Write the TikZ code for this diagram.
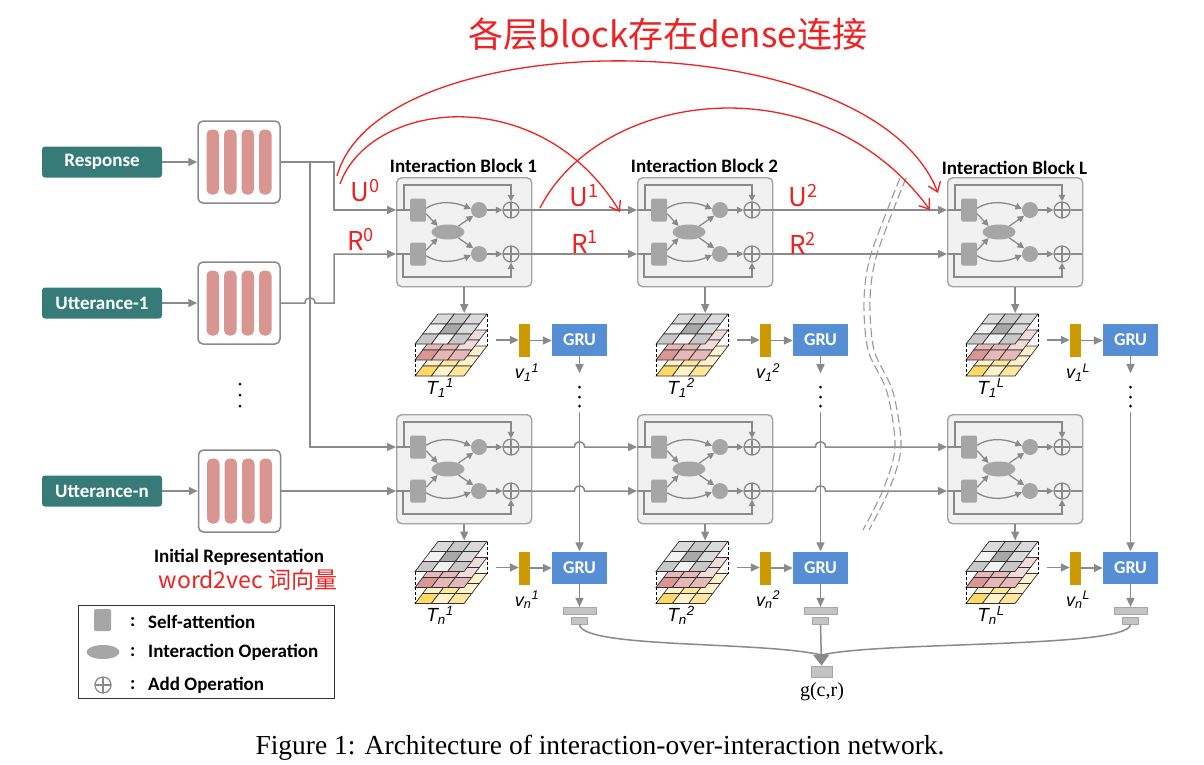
\documentclass[tikz,border=0pt]{standalone}
\usepackage{fontspec}
\setmainfont{Carlito}
\newfontfamily\serifcap{Liberation Serif}
\newfontfamily\sansit{Liberation Sans}
\newfontfamily\cjk{Noto Sans CJK SC}
\usetikzlibrary{arrows.meta,calc,shapes.geometric}

\definecolor{teal0}{HTML}{367B78}
\definecolor{emb}{HTML}{D99592}
\definecolor{lnc}{HTML}{8A8A8A}
\definecolor{blkfill}{HTML}{F1F1F1}
\definecolor{blkdraw}{HTML}{A3A3A3}
\definecolor{opfill}{HTML}{A6A6A6}
\definecolor{gru}{HTML}{558ED5}
\definecolor{vbar}{HTML}{CC9900}
\definecolor{hand}{HTML}{EE2222}
\definecolor{poolc}{HTML}{C4C4C4}
% tensor cell colours
\definecolor{g2}{HTML}{C8C8C8}
\definecolor{g3}{HTML}{A8A8A8}
\definecolor{g4}{HTML}{F2F2F2}
\definecolor{g5}{HTML}{DADADA}
\definecolor{p1}{HTML}{D99694}
\definecolor{p2}{HTML}{E6B9B8}
\definecolor{p3}{HTML}{F2DCDB}
\definecolor{y1}{HTML}{FFD966}
\definecolor{y2}{HTML}{FFE699}
\definecolor{y3}{HTML}{FFF2CC}

\tikzset{
  ln/.style={draw=lnc, line width=1.5pt},
  arr/.style={ln, -{Triangle[length=9pt,width=8pt]}},
  arrs/.style={draw=lnc, line width=1.3pt, -{Triangle[length=6.5pt,width=6.5pt]}},
  blk/.style={draw=blkdraw, fill=blkfill, rounded corners=5pt, line width=1.4pt,
    minimum width=135pt, minimum height=109pt, inner sep=0pt},
  sa/.style={fill=opfill, rounded corners=1.5pt, minimum width=16pt, minimum height=23pt, inner sep=0pt},
  io/.style={ellipse, fill=opfill, minimum width=33pt, minimum height=15pt, inner sep=0pt},
  dotop/.style={circle, fill=opfill, minimum size=16pt, inner sep=0pt},
  addop/.style={circle, draw=lnc, line width=1.3pt, minimum size=16pt, inner sep=0pt,
    path picture={\draw[lnc, line width=1.3pt]
      (path picture bounding box.north) -- (path picture bounding box.south)
      (path picture bounding box.west) -- (path picture bounding box.east);}},
  srcbox/.style={fill=teal0, rounded corners=3pt, minimum width=120pt, minimum height=31pt,
    inner sep=0pt, text=white, font=\bfseries\fontsize{19}{19}\selectfont},
  embbox/.style={draw=lnc, fill=white, rounded corners=5pt, line width=1.5pt,
    minimum size=82pt, inner sep=0pt,
    path picture={\foreach \k in {-1.5,-0.5,0.5,1.5}
      \fill[emb] ($(path picture bounding box.center)+(\k*17.5-6.25,-32.5)$) rectangle ++(12.5,65);}},
  grubox/.style={fill=gru, minimum width=55pt, minimum height=32pt, inner sep=0pt,
    text=white, font=\bfseries\fontsize{18}{18}\selectfont},
  vec/.style={fill=vbar, minimum width=11pt, minimum height=33pt, inner sep=0pt},
  poolA/.style={fill=poolc, draw=gray!70, line width=0.6pt, minimum width=33pt, minimum height=7pt, inner sep=0pt},
  poolB/.style={fill=poolc, draw=gray!70, line width=0.6pt, minimum width=16pt, minimum height=7pt, inner sep=0pt},
  vdot/.style={circle, fill=black, minimum size=3pt, inner sep=0pt},
  title/.style={font=\bfseries\fontsize{19}{19}\selectfont, inner sep=0pt},
  Tlab/.style={font=\sansit\itshape\fontsize{19}{19}\selectfont, inner sep=0pt},
  vlab/.style={font=\sansit\itshape\fontsize{18}{18}\selectfont, inner sep=0pt},
  legtxt/.style={font=\bfseries\fontsize{19}{19}\selectfont, anchor=west, inner sep=0pt},
  redtxt/.style={text=hand, font=\cjk\fontsize{26}{26}\selectfont, inner sep=0pt},
  redarr/.style={draw=hand, line width=1.3pt, -{Straight Barb[length=9pt,width=13pt]}},
  brk/.style={draw=gray!80, line width=1.1pt, dash pattern=on 9pt off 4pt},
}

% one 3x3 layer of a matching tensor; #1 vertical offset, #2 nine colours (back row first)
\newcommand\tlayer[2]{%
  \begin{scope}[shift={(0,#1)}, x={(16.333pt,0pt)}, y={(-7.667pt,-10pt)}]
    \foreach \c [count=\k from 0] in {#2}{%
      \pgfmathtruncatemacro\cu{mod(\k,3)}%
      \pgfmathtruncatemacro\cv{int(\k/3)}%
      \filldraw[fill=\c, draw=black!80, line width=0.7pt]
        (\cu,\cv) -- ++(1,0) -- ++(0,1) -- ++(-1,0) -- cycle;
    }
  \end{scope}}

% stack of three layers; #2,#3 = back-left corner of the top layer
\newcommand\tstack[3]{%
  \begin{scope}[shift={(#2,#3)}]
    \tlayer{32}{y3,y2,y3,y3,y2,y3,y1,y3,y2}
    \tlayer{16}{p3,p3,p3,p2,p2,p3,p1,p2,p2}
    \tlayer{0}{g5,g2,g5,g4,g3,g5,g2,g4,g2}
    \draw[black, line width=0.8pt, dash pattern=on 3pt off 2pt] (-23,30) -- (-23,62);
    \draw[black, line width=0.8pt, dash pattern=on 3pt off 2pt] (49,0) -- (49,32);
    \coordinate (#1-top) at (24.5,0);
    \coordinate (#1-out) at (58,26);
  \end{scope}}

% tensor, feature vector and GRU of one block
\newcommand\stage[5]{%
  \tstack{t#1}{#2}{#3}
  \node[Tlab] (tl#1) at ($(t#1-top)+(-22.5,74)$) {#4};
  \node[vec] (v#1) at ($(t#1-top)+(62,26.5)$) {};
  \node[grubox] (g#1) at ($(t#1-top)+(117,26)$) {GRU};
  \node[vlab] (vl#1) at ($(v#1)+(2.5,32)$) {#5};
  \draw[arr] (t#1-out) -- (t#1-out -| v#1.west);
  \draw[arr] (v#1.east) -- (v#1.east -| g#1.west);
}

% interaction block; #2,#3 = top-left corner
\newcommand\ioiblock[3]{%
  \begin{scope}[shift={(#2,#3)}]
    \node[blk, anchor=north west] (#1) at (0,0) {};
    \node[sa] (#1-sau) at (22,33) {};
    \node[sa] (#1-sar) at (22,77) {};
    \node[io] (#1-io) at (52,55) {};
    \node[dotop] (#1-du) at (83,33) {};
    \node[dotop] (#1-dr) at (83,77) {};
    \node[addop] (#1-au) at (115,33) {};
    \node[addop] (#1-ar) at (115,77) {};
    \coordinate (#1-uin) at (0,33);
    \coordinate (#1-rin) at (0,77);
    \coordinate (#1-uout) at (135,33);
    \coordinate (#1-rout) at (135,77);
    \coordinate (#1-ku) at (8,8);
    \coordinate (#1-kr) at (7,100);
  \end{scope}
  \draw[ln] (#1-uin) -- (#1-sau);
  \draw[ln] (#1-rin) -- (#1-sar);
  \draw[arrs] (#1-ku |- #1-uin) -- (#1-ku) -| (#1-au.north);
  \draw[arrs] (#1-kr |- #1-rin) -- (#1-kr) -| (#1-ar.south);
  \draw[arrs] (#1-sau.12) .. controls +(14,-9) and +(-14,-6) .. (#1-du.172);
  \draw[arrs] (#1-sau.-25) -- (#1-io.150);
  \draw[arrs] (#1-sar.25) -- (#1-io.210);
  \draw[arrs] (#1-sar.-12) .. controls +(14,9) and +(-14,6) .. (#1-dr.188);
  \draw[arrs] (#1-io.30) -- (#1-du.225);
  \draw[arrs] (#1-io.-30) -- (#1-dr.135);
  \draw[arrs] (#1-du) -- (#1-au);
  \draw[arrs] (#1-dr) -- (#1-ar);
  \draw[ln] (#1-au) -- (#1-uout);
  \draw[ln] (#1-ar) -- (#1-rout);
}

% horizontal connector that hops over a vertical line at the x of #3
\newcommand\hopline[3]{%
  \draw[arr] (#1) -- ($(#3 |- #1)+(-5,0)$)
    .. controls +(0,-7) and +(0,-7) .. ($(#3 |- #1)+(5,0)$) -- (#2);}

\begin{document}
\begin{tikzpicture}[x=1pt,y=-1pt]
\fill[white] (0,0) rectangle (1204,764);
\useasboundingbox (0,0) rectangle (1204,764);

% inputs and initial representations
\node[srcbox] (resp) at (102,162) {Response};
\node[srcbox] (utt1) at (102,303) {Utterance-1};
\node[srcbox] (uttn) at (102,491) {Utterance-n};
\node[embbox] (eR) at (239,162) {};
\node[embbox] (e1) at (239,303) {};
\node[embbox] (en) at (239.5,491) {};
\draw[arr] (resp) -- (eR);
\draw[arr] (utt1) -- (e1);
\draw[arr] (uttn) -- (en);
\node[vdot] (ld1) at (240,384) {};
\node[vdot] (ld2) at (240,395) {};
\node[vdot] (ld3) at (240,406) {};
\node[title] (initrep) at (239,557) {Initial Representation};

% interaction blocks
\ioiblock{b11}{396}{177}
\ioiblock{b21}{637}{177}
\ioiblock{bL1}{947}{177}
\ioiblock{b1n}{396}{414}
\ioiblock{b2n}{637}{414}
\ioiblock{bLn}{947}{414}
\node[title] (tt1) at (463.5,166) {Interaction Block 1};
\node[title] (tt2) at (704.5,166) {Interaction Block 2};
\node[title] (ttL) at (1014.5,168) {Interaction Block L};

% wiring from the representations into the first blocks
\coordinate (kA) at (310,162);
\coordinate (kB) at (334,186);
\coordinate (kC) at (334,280);
\draw[ln] (eR.east) -- (kA);
\draw[arr] (kA) -| (kB) |- (b11-uin);
\draw[arr] (kA) |- (b1n-uin);
\draw[arr] (e1.east) -- ($(kA |- e1.east)+(-5,0)$)
  .. controls +(0,-7) and +(0,-7) .. ($(kA |- e1.east)+(5,0)$) -| (kC) |- (b11-rin);
\draw[arr] (en.east) -- (b1n-rin);

% block to block
\draw[arr] (b11-uout) -- (b21-uin);
\draw[arr] (b11-rout) -- (b21-rin);
\draw[arr] (b21-uout) -- (bL1-uin);
\draw[arr] (b21-rout) -- (bL1-rin);

% matching tensors, vectors and GRUs
\stage{11}{438}{314}{T\textsubscript{1}\textsuperscript{1}}{v\textsubscript{1}\textsuperscript{1}}
\stage{21}{679}{314}{T\textsubscript{1}\textsuperscript{2}}{v\textsubscript{1}\textsuperscript{2}}
\stage{L1}{989}{314}{T\textsubscript{1}\textsuperscript{L}}{v\textsubscript{1}\textsuperscript{L}}
\stage{1n}{438}{541.5}{T\textsubscript{n}\textsuperscript{1}}{v\textsubscript{n}\textsuperscript{1}}
\stage{2n}{679}{541.5}{T\textsubscript{n}\textsuperscript{2}}{v\textsubscript{n}\textsuperscript{2}}
\stage{Ln}{989}{541.5}{T\textsubscript{n}\textsuperscript{L}}{v\textsubscript{n}\textsuperscript{L}}

\foreach \b/\t in {b11/t11,b21/t21,bL1/tL1,b1n/t1n,b2n/t2n,bLn/tLn}
  \draw[arr] (\b.south) -- ($(\b.south |- \t-top)+(0,-1)$);

% lower row block to block, hopping over the GRU chains
\hopline{b1n-uout}{b2n-uin}{g11}
\hopline{b1n-rout}{b2n-rin}{g11}
\hopline{b2n-uout}{bLn-uin}{g21}
\hopline{b2n-rout}{bLn-rin}{g21}

% GRU chains and pooling
\foreach \c in {1,2,L}{
  \coordinate (ge\c) at ($(g\c1.south)+(0,17)$);
  \draw[arr] (g\c1.south) -- (ge\c);
  \node[vdot] (gd\c a) at ($(g\c1.south)+(0,31)$) {};
  \node[vdot] (gd\c b) at ($(g\c1.south)+(0,41)$) {};
  \node[vdot] (gd\c c) at ($(g\c1.south)+(0,50)$) {};
  \coordinate (gs\c) at ($(g\c1.south)+(0,56)$);
  \draw[arr] (gs\c) -- (g\c n.north);
  \node[poolA] (pa\c) at ($(g\c n.south)+(0,27)$) {};
  \node[poolB] (pb\c) at ($(g\c n.south)+(0,37)$) {};
  \draw[arr] (g\c n.south) -- (pa\c.north);
}

% final score
\node[poolA, minimum width=21pt, minimum height=11pt] (gcr) at (821.5,671.5) {};
\node[font=\serifcap\fontsize{20}{20}\selectfont, inner sep=0pt] (gcrl) at (822,692) {g(c,r)};
\coordinate (gm) at (821.5,655);
\draw[ln] (pb1.south) .. controls +(2,24) and +(-60,-14) .. (gm);
\draw[ln] (pbL.south) .. controls +(-2,24) and +(60,-14) .. (gm);
\draw[ln, -{Triangle[length=11pt,width=16pt]}] (pb2.south) -- (gcr.north);

% break between block 2 and block L
\draw[brk] plot[smooth] coordinates {(900,178) (871,254) (864,300) (868,350) (887,392) (895,447) (883,490) (863,530)};
\draw[brk] plot[smooth] coordinates {(906,178) (877,254) (870,300) (874,350) (893,392) (901,447) (889,490) (869,530)};

% legend
\node[draw=black!80, line width=1pt, minimum width=256pt, minimum height=93pt, inner sep=0pt] (leg) at (206,651.5) {};
\node[sa, minimum width=17pt, minimum height=22pt] (lsa) at (102.5,620) {};
\node[io, minimum width=33pt, minimum height=14pt] (lio) at (103,652) {};
\node[addop] (lad) at (103,685) {};
\node[legtxt] (lc1) at (130,622) {:};
\node[legtxt] (lc2) at (130,652) {:};
\node[legtxt] (lc3) at (130,685) {:};
\node[legtxt] (lt1) at (148,622) {Self-attention};
\node[legtxt] (lt2) at (148,652) {Interaction Operation};
\node[legtxt] (lt3) at (148,685) {Add Operation};

% handwritten notes
\node[redtxt, font=\cjk\fontsize{35}{35}\selectfont] (note) at (668,34) {各层block存在dense连接};
\node[redtxt, font=\cjk\fontsize{23}{23}\selectfont] (w2v) at (248,580) {word2vec 词向量};
\node[redtxt] (u0) at (365,191) {U\textsuperscript{0}};
\node[redtxt] (r0) at (361,239) {R\textsuperscript{0}};
\node[redtxt] (u1) at (584,196) {U\textsuperscript{1}};
\node[redtxt] (r1) at (585,242) {R\textsuperscript{1}};
\node[redtxt] (u2) at (803,196) {U\textsuperscript{2}};
\node[redtxt] (r2) at (803,243) {R\textsuperscript{2}};
\coordinate (rA0) at (337,176);
\coordinate (rA1) at (938,193);
\coordinate (rB0) at (340,184);
\coordinate (rB1) at (620,212);
\coordinate (rC0) at (540,208);
\coordinate (rC1) at (930,210);
\draw[redarr] (rA0) .. controls (380,20) and (870,20) .. (rA1);
\draw[redarr] (rB0) .. controls (370,100) and (540,80) .. (rB1);
\draw[redarr] (rC0) .. controls (600,90) and (820,60) .. (rC1);

% caption
\node[font=\serifcap\fontsize{27.5}{30}\selectfont, inner sep=0pt] (cap) at (600,748)
  {Figure 1: Architecture of interaction-over-interaction network.};
\end{tikzpicture}
\end{document}
